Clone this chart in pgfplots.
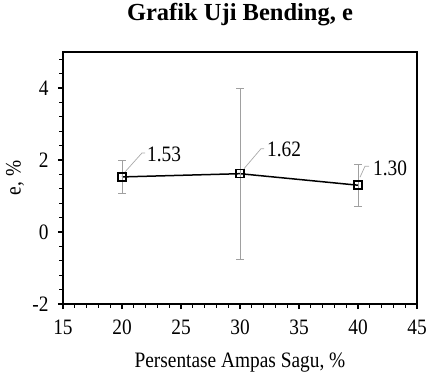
\documentclass[border=0pt]{standalone}
\usepackage{fontspec}
\setmainfont{Liberation Serif}[FakeStretch=0.88]
\newfontfamily\titlefont{Liberation Serif}
\usepackage{pgfplots}
\pgfplotsset{compat=1.18}
\definecolor{errgray}{RGB}{160,160,160}
\definecolor{leadgray}{RGB}{170,170,170}
\begin{document}
\begin{tikzpicture}
\begin{axis}[
  at={(63pt,-304pt)}, anchor=south west,
  scale only axis, width=354pt, height=252pt,
  xmin=15, xmax=45, ymin=-2, ymax=5,
  xtick={15,20,25,30,35,40,45},
  ytick={-2,0,2,4},
  minor x tick num=4,
  minor ytick={-1.6,-1.2,-0.8,-0.4,0.4,0.8,1.2,1.6,2.4,2.8,3.2,3.6,4.4,4.8},
  axis line style={line width=1.3pt},
  tick align=outside, tick pos=left,
  major tick length=5pt, minor tick length=3.5pt,
  every tick/.style={black, line width=1.1pt},
  tick label style={font=\fontsize{22}{24}\selectfont},
  xticklabel style={yshift=-7pt},
  yticklabel style={xshift=-6pt},
  /pgf/number format/assume math mode=true,
  xlabel={Persentase Ampas Sagu, \%},
  ylabel={e, \%},
  xlabel style={font=\fontsize{22}{24}\selectfont, at={(axis description cs:0.5,-0.25)}, anchor=base},
  ylabel style={font=\fontsize{22}{24}\selectfont, at={(axis description cs:-0.1356,0.5)}, anchor=center},
  title={\titlefont\bfseries Grafik Uji Bending, e},
  title style={font=\fontsize{24.5}{26}\selectfont, at={(axis description cs:0.5,1.10)}, anchor=base},
  clip=false,
]
\addplot[black, line width=1.5pt, mark=square, mark size=4pt,
  mark options={line width=1.5pt, solid},
  error bars/.cd, y dir=both, y explicit,
  error bar style={errgray, line width=0.9pt},
  error mark options={rotate=90, mark size=4pt, errgray, line width=0.9pt}]
  coordinates {(20,1.53) +- (0,0.45) (30,1.62) +- (0,2.37) (40,1.30) +- (0,0.58)};
\draw[leadgray, line width=0.7pt] (axis cs:20,1.53) ++(3pt,5pt) -- ++(17pt,19pt) -- ++(3pt,0pt);
\draw[leadgray, line width=0.7pt] (axis cs:30,1.62) ++(4pt,5pt) -- ++(17pt,20pt) -- ++(3pt,0pt);
\draw[leadgray, line width=0.7pt] (axis cs:40,1.30) ++(2pt,8pt) -- ++(5pt,11pt) -- ++(4pt,0pt);
\node[anchor=west, inner sep=0pt, font=\fontsize{22}{24}\selectfont, xshift=25pt, yshift=23pt] at (axis cs:20,1.53) {1.53};
\node[anchor=west, inner sep=0pt, font=\fontsize{22}{24}\selectfont, xshift=27pt, yshift=24pt] at (axis cs:30,1.62) {1.62};
\node[anchor=west, inner sep=0pt, font=\fontsize{22}{24}\selectfont, xshift=15pt, yshift=17pt] at (axis cs:40,1.30) {1.30};
\end{axis}
\pgfresetboundingbox
\path (0pt,0pt) rectangle (426pt,-373pt);
\end{tikzpicture}
\end{document}
